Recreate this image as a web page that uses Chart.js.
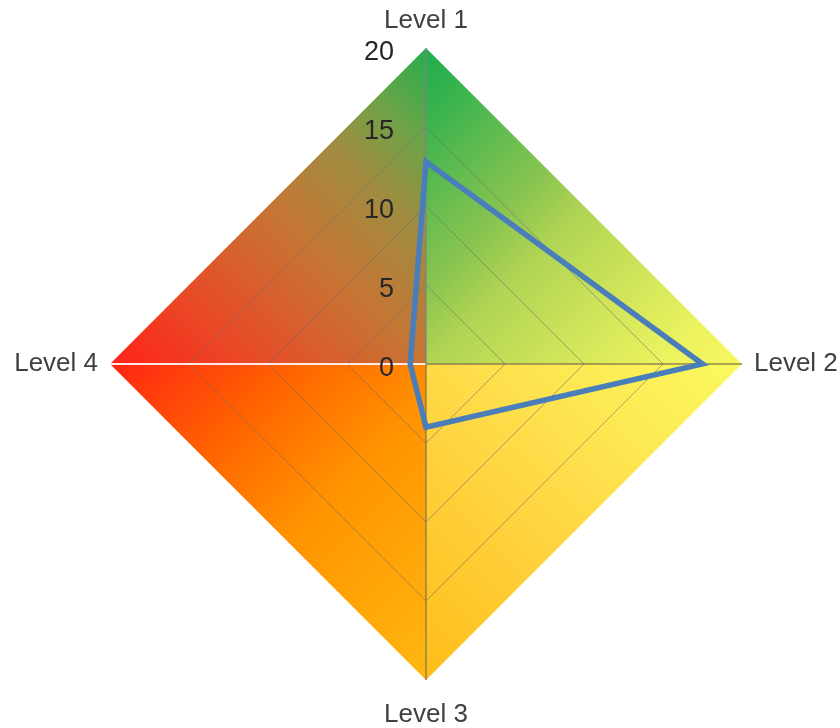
<!DOCTYPE html>
<html>
<head>
<meta charset="utf-8">
<title>Level radar</title>
<script src="https://cdn.jsdelivr.net/npm/chart.js@4/dist/chart.umd.min.js"></script>
<style>
  html, body { margin: 0; padding: 0; background: #ffffff; }
  #wrap { width: 840px; height: 728px; }
</style>
</head>
<body>
<div id="wrap"><canvas id="chart" width="840" height="728"></canvas></div>
<script>
// Data
const categories = ['Level 1', 'Level 2', 'Level 3', 'Level 4'];
const seriesValues = [12.8, 17.5, 4, 1];
const tickValues = [0, 5, 10, 15, 20];
const tickLabels = ['0', '5', '10', '15', '20'];

// Gradient stops for each quadrant, running from one axis tip to the next (clockwise)
const quadrantStops = [
  [[0, '#20ae4e'], [0.1, '#34b24e'], [0.38, '#88c450'], [0.5, '#b0d454'], [0.86, '#eaf25e'], [1, '#f8f860']],
  [[0, '#fafa60'], [0.3, '#fde852'], [0.55, '#ffd644'], [1, '#ffbc18']],
  [[0, '#ffb810'], [0.45, '#ff9200'], [0.7, '#ff6400'], [1, '#ff2414']],
  [[0, '#ff2216'], [0.2, '#ec4526'], [0.5, '#c67534'], [0.7, '#a08c40'], [0.85, '#6aa448'], [1, '#26ae4e']]
];
const angleLineColors = ['rgba(130,130,130,0.8)', 'rgba(110,100,70,0.75)', 'rgba(120,110,90,0.75)', 'rgba(255,240,240,0.95)'];
const angleLineWidths = [1.5, 1.5, 1.5, 2];
const labelPadding = [6.5, 12, 21.5, 12];
const labelLineHeights = [41 / 26, 1, 1, 1];

// Coloured diamond behind the grid
const quadrantFill = {
  id: 'quadrantFill',
  beforeDraw(chart) {
    const s = chart.scales.r;
    const ctx = chart.ctx;
    const outer = s.getDistanceFromCenterForValue(s.max);
    const n = categories.length;
    ctx.save();
    for (let i = 0; i < n; i++) {
      const a = s.getPointPosition(i, outer);
      const b = s.getPointPosition((i + 1) % n, outer);
      const g = ctx.createLinearGradient(a.x, a.y, b.x, b.y);
      quadrantStops[i].forEach(([o, c]) => g.addColorStop(o, c));
      ctx.beginPath();
      ctx.moveTo(s.xCenter, s.yCenter);
      ctx.lineTo(a.x, a.y);
      ctx.lineTo(b.x, b.y);
      ctx.closePath();
      ctx.fillStyle = g;
      ctx.fill();
    }
    ctx.restore();
  }
};

// Scale values written beside the vertical axis
const sideTicks = {
  id: 'sideTicks',
  afterDraw(chart) {
    const s = chart.scales.r;
    const ctx = chart.ctx;
    ctx.save();
    ctx.font = '27px "Liberation Sans", Arial, sans-serif';
    ctx.fillStyle = '#262626';
    ctx.textAlign = 'right';
    ctx.textBaseline = 'middle';
    tickValues.forEach((v, i) => {
      const d = s.getDistanceFromCenterForValue(v);
      ctx.fillText(tickLabels[i], s.xCenter - 32, s.yCenter - d + 5);
    });
    ctx.restore();
  }
};

new Chart(document.getElementById('chart'), {
  type: 'radar',
  data: {
    labels: categories,
    datasets: [{
      data: seriesValues,
      borderColor: '#4a7ebb',
      borderWidth: 5.5,
      backgroundColor: 'rgba(0,0,0,0)',
      fill: false,
      pointRadius: 0,
      pointHoverRadius: 0,
      tension: 0,
      borderJoinStyle: 'miter'
    }]
  },
  options: {
    responsive: false,
    animation: false,
    devicePixelRatio: 1,
    layout: { padding: { left: 14.2, right: 2.2, top: 0, bottom: 0 } },
    plugins: {
      legend: { display: false },
      tooltip: { enabled: false },
      title: { display: false }
    },
    scales: {
      r: {
        min: 0,
        max: 20,
        startAngle: 0,
        ticks: { stepSize: 5, display: false },
        grid: {
          color: ctx => (ctx.tick && ctx.tick.value === 20) ? 'rgba(0,0,0,0)' : 'rgba(105,105,105,0.55)',
          lineWidth: 1
        },
        angleLines: {
          color: ctx => angleLineColors[ctx.index],
          lineWidth: ctx => angleLineWidths[ctx.index]
        },
        pointLabels: {
          color: '#404040',
          padding: ctx => labelPadding[ctx.index],
          font: ctx => ({ family: '"Liberation Sans", Arial, sans-serif', size: 26, lineHeight: labelLineHeights[ctx.index] })
        }
      }
    }
  },
  plugins: [quadrantFill, sideTicks]
});
</script>
</body>
</html>
